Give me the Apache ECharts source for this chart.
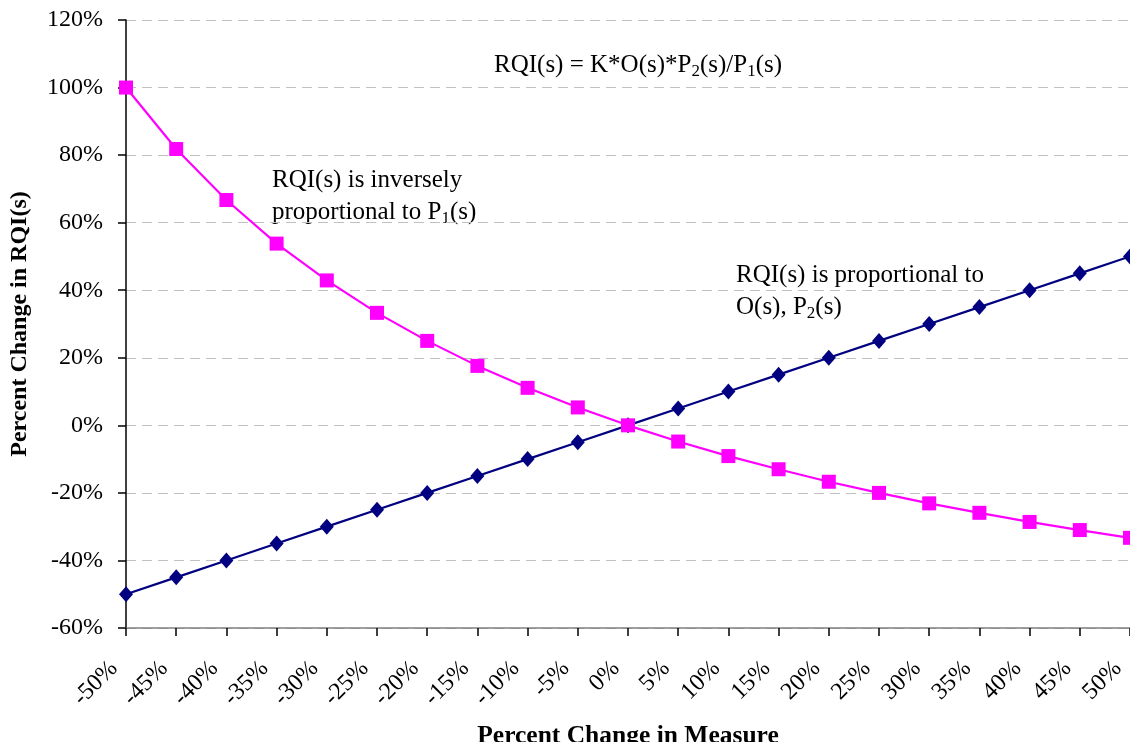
<!DOCTYPE html>
<html>
<head>
<meta charset="utf-8">
<script src="https://cdn.jsdelivr.net/npm/echarts@6/dist/echarts.min.js"></script>
<style>
  html, body { margin: 0; padding: 0; background: #fff; }
  #chart { width: 1130px; height: 742px; }
</style>
</head>
<body>
<div id="chart"></div>
<script>
// 横轴：测量值变化百分比
const measureChange = ['-50%', '-45%', '-40%', '-35%', '-30%', '-25%', '-20%', '-15%', '-10%', '-5%', '0%',
    '5%', '10%', '15%', '20%', '25%', '30%', '35%', '40%', '45%', '50%'];

// 与 O(s), P2(s) 成正比
const proportional = [-50, -45, -40, -35, -30, -25, -20, -15, -10, -5, 0,
    5, 10, 15, 20, 25, 30, 35, 40, 45, 50];

// 与 P1(s) 成反比
const inverse = [100, 81.8, 66.7, 53.8, 42.9, 33.3, 25.0, 17.6, 11.1, 5.3, 0,
    -4.8, -9.1, -13.0, -16.7, -20.0, -23.1, -25.9, -28.6, -31.0, -33.3];

const FONT = '"Liberation Serif", "Times New Roman", serif';

const chart = echarts.init(document.getElementById('chart'));

const richText = {
    n: { fontFamily: FONT, fontSize: 25, color: '#000', lineHeight: 32 },
    sub: { fontFamily: FONT, fontSize: 17, color: '#000', lineHeight: 32, padding: [12, 0, 0, 0] }
};

const option = {
    backgroundColor: '#fff',
    animation: false,
    grid: {
        left: 126,
        right: 0,
        top: 20,
        bottom: 114,
        outerBoundsMode: 'none',
        containLabel: false
    },
    xAxis: {
        type: 'category',
        data: measureChange,
        boundaryGap: false,
        name: 'Percent Change in Measure',
        nameLocation: 'middle',
        nameGap: 95,
        nameTextStyle: {
            fontFamily: FONT,
            fontSize: 25.5,
            fontWeight: 'bold',
            color: '#000'
        },
        axisLine: {
            onZero: false,
            lineStyle: { color: '#808080', width: 1.5 }
        },
        axisTick: {
            show: true,
            alignWithLabel: true,
            length: 8,
            inside: false,
            lineStyle: { color: '#000', width: 1.5 }
        },
        axisLabel: {
            fontFamily: FONT,
            fontSize: 24,
            color: '#000',
            rotate: 45,
            margin: 25,
            padding: [0, 17, 0, 0],
            interval: 0
        },
        splitLine: { show: false }
    },
    yAxis: {
        type: 'value',
        min: -60,
        max: 120,
        interval: 20,
        name: 'Percent Change in RQI(s)',
        nameLocation: 'middle',
        nameGap: 94,
        nameTextStyle: {
            fontFamily: FONT,
            fontSize: 24,
            fontWeight: 'bold',
            color: '#000'
        },
        axisLine: {
            show: true,
            lineStyle: { color: '#000', width: 1.5 }
        },
        axisTick: {
            show: true,
            length: 8,
            lineStyle: { color: '#000', width: 1.5 }
        },
        axisLabel: {
            fontFamily: FONT,
            fontSize: 24,
            color: '#000',
            margin: 23,
            formatter: '{value}%'
        },
        splitLine: {
            show: true,
            lineStyle: { color: '#c0c0c0', type: [10, 6], width: 1 }
        }
    },
    series: [
        {
            name: 'proportional',
            type: 'line',
            data: proportional,
            symbol: 'diamond',
            symbolSize: [14, 16],
            itemStyle: { color: '#000080' },
            lineStyle: { color: '#000080', width: 2.2 },
            z: 2
        },
        {
            name: 'inverse',
            type: 'line',
            data: inverse,
            symbol: 'rect',
            symbolSize: 14,
            itemStyle: { color: '#ff00ff' },
            lineStyle: { color: '#ff00ff', width: 2.2 },
            z: 3
        }
    ],
    graphic: [
        {
            type: 'text',
            left: 494,
            top: 51,
            style: {
                text: '{n|RQI(s) = K*O(s)*P}{sub|2}{n|(s)/P}{sub|1}{n|(s)}',
                rich: richText
            }
        },
        {
            type: 'text',
            left: 272,
            top: 168,
            style: {
                text: '{n|RQI(s) is inversely}\n{n|proportional to P}{sub|1}{n|(s)}',
                rich: richText
            }
        },
        {
            type: 'text',
            left: 736,
            top: 263,
            style: {
                text: '{n|RQI(s) is proportional to}\n{n|O(s), P}{sub|2}{n|(s)}',
                rich: richText
            }
        }
    ]
};

chart.setOption(option);

window.addEventListener('resize', () => {
    chart.resize();
});
</script>
</body>
</html>
